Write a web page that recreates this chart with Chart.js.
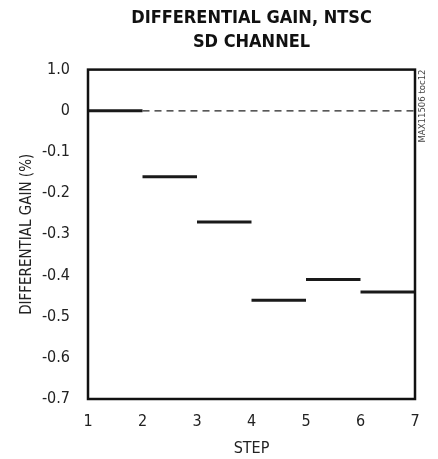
<!DOCTYPE html>
<html>
<head>
<meta charset="utf-8">
<script src="https://cdn.jsdelivr.net/npm/chart.js@4"></script>
<style>
  html, body { margin: 0; padding: 0; background: #fff; }
  #wrap { width: 438px; height: 459px; }
</style>
</head>
<body>
<div id="wrap"><canvas id="myChart"></canvas></div>
<script>
// step segments: each runs from stepStart to stepStart + 1
const stepStart = [1, 2, 3, 4, 5, 6];
const diffGain = [0, -0.16, -0.27, -0.46, -0.41, -0.44];
// dashed reference at 0
const refX = [2, 7];
const refY = [0, 0];
const yTicks = [-0.7, -0.6, -0.5, -0.4, -0.3, -0.2, -0.1, 0, 0.1];
const yTickText = ['-0.7', '-0.6', '-0.5', '-0.4', '-0.3', '-0.2', '-0.1', '0', '1.0'];

const FONT = "'Liberation Sans Narrow', 'DejaVu Sans Condensed', 'Arial Narrow', sans-serif";

// build segment points, null breaks between steps
const segData = [];
for (let i = 0; i < stepStart.length; i++) {
  segData.push({ x: stepStart[i], y: diffGain[i] });
  segData.push({ x: stepStart[i] + 1, y: diffGain[i] });
  segData.push({ x: stepStart[i] + 1, y: null });
}

// frame around plot + side code text
const framePlugin = {
  id: 'frame',
  afterDraw(chart) {
    const { ctx, chartArea: a } = chart;
    ctx.save();
    ctx.strokeStyle = '#111';
    ctx.lineWidth = 2.5;
    ctx.strokeRect(a.left, a.top, a.right - a.left, a.bottom - a.top);
    ctx.translate(a.right + 8, 106);
    ctx.rotate(-Math.PI / 2);
    ctx.fillStyle = '#444';
    ctx.font = "9.5px " + FONT;
    ctx.textAlign = 'center';
    ctx.textBaseline = 'middle';
    ctx.fillText('MAX11506 toc12', 0, 0);
    ctx.restore();
  }
};

const ctx = document.getElementById('myChart').getContext('2d');
new Chart(ctx, {
  type: 'line',
  data: {
    datasets: [{
      data: segData,
      borderColor: '#1a1a1a',
      borderWidth: 3,
      pointRadius: 0,
      spanGaps: false,
      borderCapStyle: 'butt'
    }, {
      data: refX.map((x, i) => ({ x: x, y: refY[i] })),
      borderColor: '#222',
      borderWidth: 1.2,
      borderDash: [7, 5],
      pointRadius: 0
    }]
  },
  options: {
    responsive: true,
    maintainAspectRatio: false,
    animation: false,
    layout: { padding: { left: 0, right: 23, top: 0, bottom: 0 } },
    plugins: {
      legend: { display: false },
      tooltip: { enabled: false },
      title: {
        display: true,
        fullSize: false,
        text: ['DIFFERENTIAL GAIN, NTSC', 'SD CHANNEL'],
        color: '#111',
        font: { family: FONT, size: 18, weight: 'bold', lineHeight: 1.35 },
        padding: { top: 6, bottom: 15 }
      }
    },
    scales: {
      x: {
        type: 'linear',
        min: 1,
        max: 7,
        grid: { display: false, drawTicks: false },
        border: { display: false },
        ticks: { stepSize: 1, padding: 13, color: '#222', font: { family: FONT, size: 16 } },
        title: { display: true, text: 'STEP', color: '#222', font: { family: FONT, size: 16 }, padding: { top: 0, bottom: 1 } },
        afterFit(scale) { scale.height = 60; }
      },
      y: {
        type: 'linear',
        min: -0.7,
        max: 0.1,
        grid: { display: false, drawTicks: false },
        border: { display: false },
        afterBuildTicks(scale) { scale.ticks = yTicks.map(v => ({ value: v })); },
        ticks: {
          padding: 18,
          color: '#222',
          font: { family: FONT, size: 16 },
          callback: (v, i) => yTickText[i]
        },
        title: { display: true, text: 'DIFFERENTIAL GAIN (%)', color: '#222', font: { family: FONT, size: 15 }, padding: { top: 18, bottom: 0 } },
        afterFit(scale) { scale.width = 88; }
      }
    }
  },
  plugins: [framePlugin]
});
</script>
</body>
</html>
